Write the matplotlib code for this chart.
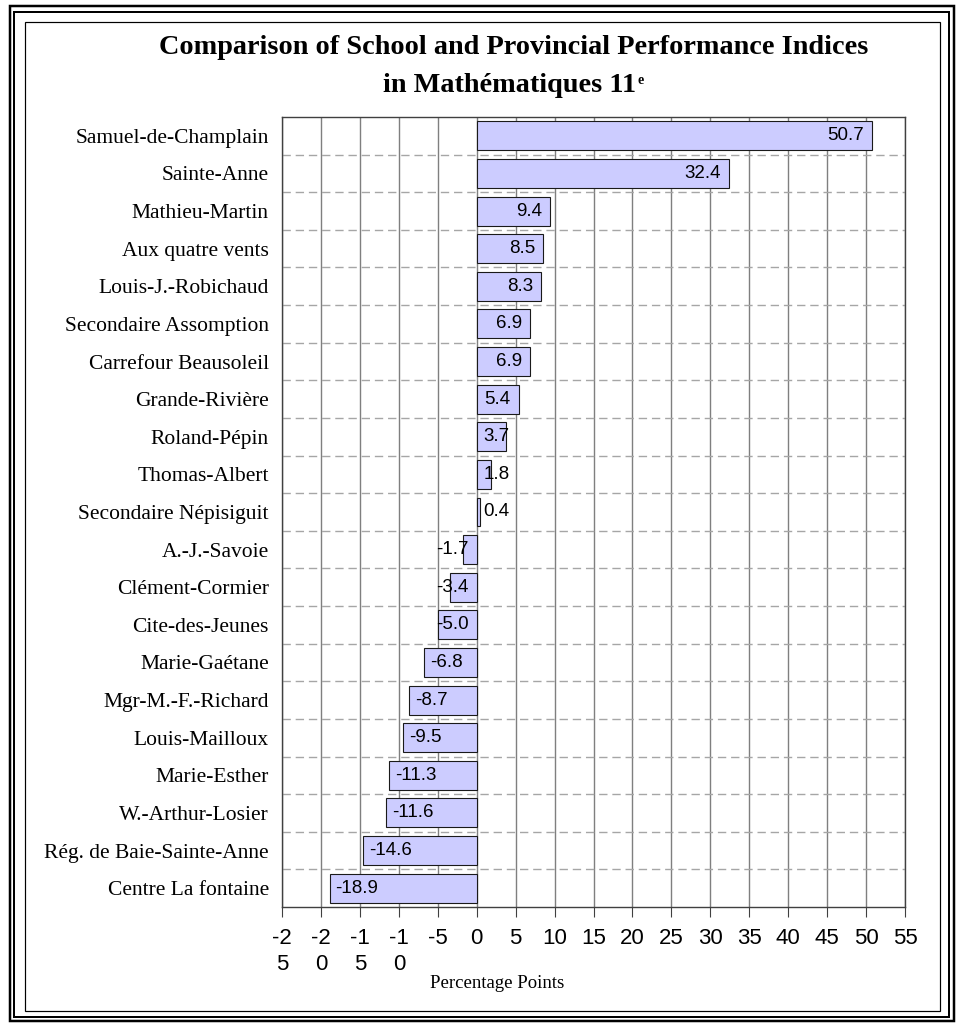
import matplotlib
matplotlib.use("Agg")
import matplotlib.pyplot as plt
from matplotlib.patches import Rectangle
import numpy as np

# ---- data -------------------------------------------------------------
schools = [
    "Samuel-de-Champlain", "Sainte-Anne", "Mathieu-Martin", "Aux quatre vents",
    "Louis-J.-Robichaud", "Secondaire Assomption", "Carrefour Beausoleil",
    "Grande-Rivière", "Roland-Pépin", "Thomas-Albert", "Secondaire Népisiguit",
    "A.-J.-Savoie", "Clément-Cormier", "Cite-des-Jeunes", "Marie-Gaétane",
    "Mgr-M.-F.-Richard", "Louis-Mailloux", "Marie-Esther", "W.-Arthur-Losier",
    "Rég. de Baie-Sainte-Anne", "Centre La fontaine",
]
indices = [50.7, 32.4, 9.4, 8.5, 8.3, 6.9, 6.9, 5.4, 3.7, 1.8, 0.4,
           -1.7, -3.4, -5.0, -6.8, -8.7, -9.5, -11.3, -11.6, -14.6, -18.9]
tick_values = [-25, -20, -15, -10, -5, 0, 5, 10, 15, 20, 25, 30, 35, 40, 45, 50, 55]
tick_labels = ["-2\n5", "-2\n0", "-1\n5", "-1\n0", "-5", "0", "5", "10", "15",
               "20", "25", "30", "35", "40", "45", "50", "55"]
title_line1 = "Comparison of School and Provincial Performance Indices"
title_line2 = "in Mathématiques 11"
title_sup = "e"
x_label = "Percentage Points"

SERIF = "Liberation Serif"
SANS = "Liberation Sans"

W, H = 957, 1024
fig = plt.figure(figsize=(W / 100, H / 100), dpi=100)
PT = 0.72  # points per pixel at 100 dpi


def fx(px):
    return px / W


def fy(py):
    return 1 - py / H


def frame(x0, y0, x1, y1, lw_px, color="black"):
    fig.patches.append(Rectangle((fx(x0), fy(y1)), fx(x1) - fx(x0), fy(y0) - fy(y1),
                                 transform=fig.transFigure, fill=False,
                                 edgecolor=color, linewidth=lw_px * PT, zorder=10))


# decorative triple border
frame(9.5, 5.5, 953.5, 1020.5, 2.5)
frame(14, 12, 948.5, 1016.5, 2.0)
frame(25, 22, 940, 1010.5, 1.2)

# ---- bars -------------------------------------------------------------
ax = fig.add_axes([fx(282), fy(907), fx(905) - fx(282), fy(117) - fy(907)])
y = np.arange(len(schools))
ax.barh(y, indices, height=0.77, color="#CCCCFF", edgecolor="#1a1a1a",
        linewidth=0.8, zorder=3)
ax.set_xlim(-25, 55)
ax.set_ylim(len(schools) - 0.5, -0.5)

ax.set_xticks(tick_values)
ax.set_xticklabels(tick_labels, fontsize=16, family=SANS, linespacing=1.3)
ax.set_yticks(y)
ax.set_yticklabels(schools, fontsize=15.5, family=SERIF)
ax.tick_params(axis="y", length=0, pad=9.5)
ax.tick_params(axis="x", length=7, width=0.8, pad=8, direction="out", color="#404040")

ax.xaxis.grid(True, color="#7f7f7f", linewidth=1.0, zorder=1)
for b in y[:-1] + 0.5:
    ax.axhline(b, color="#a6a6a6", linewidth=1.0, linestyle=(0, (6, 3.5)), zorder=2)
ax.set_axisbelow(True)
for s in ax.spines.values():
    s.set_color("#404040")
    s.set_linewidth(1.0)

fig.text(fx(497), fy(983), x_label, ha="center", va="center",
         family=SERIF, fontsize=13.5)

# ---- title ------------------------------------------------------------
fig.text(fx(513.5), fy(54), title_line1, ha="center", va="baseline",
         family=SERIF, fontweight="bold", fontsize=20.3)
t2 = fig.text(fx(383), fy(92), title_line2, ha="left", va="baseline",
              family=SERIF, fontweight="bold", fontsize=20.3)

fig.canvas.draw()
renderer = fig.canvas.get_renderer()
bb2 = t2.get_window_extent(renderer)
fig.text((bb2.x1 + 1) / W, fy(74), title_sup, ha="left", va="top",
         family=SERIF, fontweight="bold", fontsize=10)

# ---- value labels inside bar ends --------------------------------------
zero_px = ax.transData.transform((0, 0))[0]
for yi, v in zip(y, indices):
    if v >= 0:
        t = ax.annotate(f"{v:.1f}", (v, yi), xytext=(-8 * PT, 0),
                        textcoords="offset points", ha="right", va="center",
                        family=SANS, fontsize=13.5, zorder=5)
        bb = t.get_window_extent(renderer)
        if bb.x0 < zero_px + 7:
            t.xy = (0, yi)
            t.set_ha("left")
            t.xyann = (7 * PT, 0)
    else:
        t = ax.annotate(f"{v:.1f}", (v, yi), xytext=(6 * PT, 0),
                        textcoords="offset points", ha="left", va="center",
                        family=SANS, fontsize=13.5, zorder=5)
        bb = t.get_window_extent(renderer)
        if bb.x1 > zero_px - 8:
            t.xy = (0, yi)
            t.set_ha("right")
            t.xyann = (-8 * PT, 0)

fig.savefig("out.png", dpi=100)
